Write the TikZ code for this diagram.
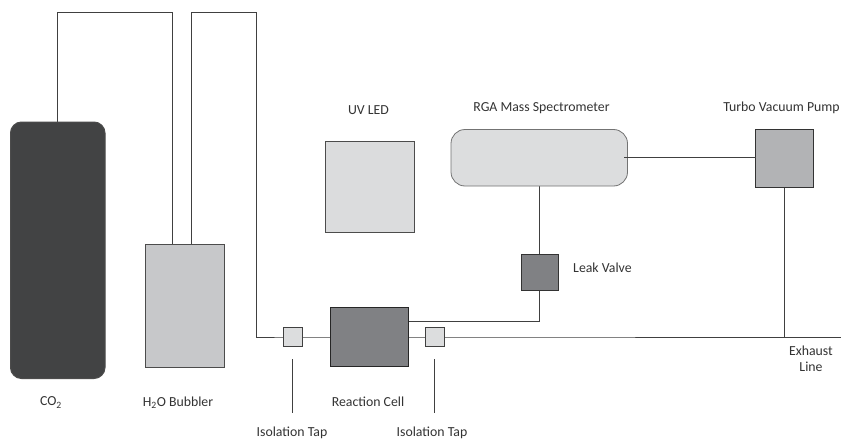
\documentclass[tikz,border=0pt]{standalone}
\usepackage{fontspec}
\setmainfont{Carlito}
\begin{document}
\begin{tikzpicture}[x=1pt,y=-1pt,
  pipe/.style={draw=black!75,line width=1pt},
  lbl/.style={text=black!80,font=\fontsize{13.8}{15}\selectfont,inner sep=0pt,anchor=center}]
\useasboundingbox (0,0) rectangle (841,439);
\path[fill=white] (0,0) rectangle (841,439);
% connector coordinates
\coordinate (p1a) at (57.5,12.5);
\coordinate (p1b) at (172.5,12.5);
\coordinate (p2a) at (191.5,12.5);
\coordinate (p2b) at (256,12.5);
\coordinate (p2c) at (256,337);
\coordinate (exh) at (841,337);
\coordinate (tick1a) at (292,359); \coordinate (tick1b) at (292,413);
\coordinate (tick2a) at (434,359); \coordinate (tick2b) at (434,413);
% pipes first
\draw[pipe] (57.5,125) -- (p1a) -- (p1b) -- (172.5,246);
\draw[pipe] (191.5,246) -- (p2a) -- (p2b) -- (p2c) -- (292,337) -- (369,337) -- (434,337) -- (exh);
\draw[pipe] (408,321) -- (539.5,321) -- (539.5,272);
\draw[pipe] (539.5,272) -- (539.5,157);
\draw[pipe] (784.5,158) -- (784.5,337);
\draw[pipe] (tick1a) -- (tick1b);
\draw[pipe] (tick2a) -- (tick2b);
% boxes
\draw[draw=black!70,line width=1pt,fill={rgb,255:red,66;green,67;blue,68},rounded corners=11pt] (10.5,122) rectangle (105,378.5);
\draw[draw=black!70,fill={rgb,255:red,199;green,200;blue,202},line width=1pt] (145.5,244.5) rectangle (224,367);
\draw[draw=black!70,fill={rgb,255:red,219;green,220;blue,221},line width=1pt] (325,141.5) rectangle (414,232);
\draw[draw=black!55,fill={rgb,255:red,220;green,221;blue,222},line width=.8pt,rounded corners=14pt] (451,129.5) rectangle (627.5,186);
\draw[draw=black!80,fill={rgb,255:red,178;green,179;blue,181},line width=1pt] (755.5,129) rectangle (813.5,187);
\draw[pipe] (624,157.5) -- (755.5,157.5);
\draw[draw=black!80,fill={rgb,255:red,128;green,129;blue,132},line width=1pt] (521,254) rectangle (558,290);
\draw[draw=black!85,fill={rgb,255:red,128;green,129;blue,132},line width=1pt] (330,307.5) rectangle (408,366);
\draw[draw=black!75,fill={rgb,255:red,220;green,221;blue,222},line width=1pt] (283,327) rectangle (302,346);
\draw[draw=black!75,fill={rgb,255:red,220;green,221;blue,222},line width=1pt] (425,327.5) rectangle (444,346.5);
% labels
\node[lbl] (uv) at (368.5,110) {UV LED};
\node[lbl] (rga) at (541.5,108) {RGA Mass Spectrometer};
\node[lbl] (tvp) at (781.5,108) {Turbo Vacuum Pump};
\node[lbl,anchor=west] (lv) at (573,268) {Leak Valve};
\node[lbl] (ex1) at (811,351) {Exhaust};
\node[lbl] (ex2) at (811,367) {Line};
\node[lbl] (co) at (51,402.5) {CO\textsubscript{2}};
\node[lbl] (h2o) at (178,402.5) {H\textsubscript{2}O Bubbler};
\node[lbl] (rc) at (368,402) {Reaction Cell};
\node[lbl] (t1) at (292,433) {Isolation Tap};
\node[lbl] (t2) at (432,433) {Isolation Tap};
\end{tikzpicture}
\end{document}
